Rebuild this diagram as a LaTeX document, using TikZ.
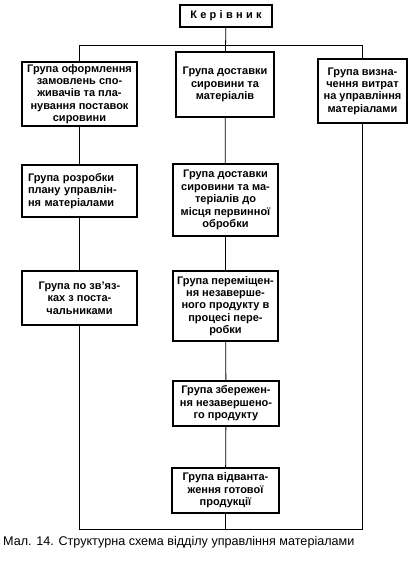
\documentclass[tikz,border=0pt]{standalone}
\usepackage{fontspec}
\setmainfont{Liberation Sans}
\newfontfamily\spacedfont[LetterSpace=30]{Liberation Sans}
\tikzset{
  grp/.style={draw,line width=1.3pt,align=center,inner sep=2pt,
    font=\fontsize{11}{12.4}\selectfont\bfseries},
  link/.style={line width=0.8pt}
}
\begin{document}
\begin{tikzpicture}[x=1pt,y=-1pt]
  \useasboundingbox (0,0) rectangle (409,561);
  % head
  \node[grp,minimum width=92pt,minimum height=22pt,font=\fontsize{11}{12}\spacedfont\bfseries] (head) at (226,16) {Керівник};
  % first row
  \node[grp,minimum width=115pt,minimum height=64pt] (orders) at (79.5,94) {Група оформлення\\замовлень спо-\\живачів та пла-\\нування поставок\\сировини};
  \node[grp,minimum width=98pt,minimum height=65pt] (deliv) at (225,84.5) {Група доставки\\сировини та\\матеріалів};
  \node[grp,minimum width=89pt,minimum height=64pt] (costs) at (362.5,91) {Група визна-\\чення витрат\\на управління\\матеріалами};
  % left column
  \node[grp,minimum width=115pt,minimum height=52pt,text width=103pt,inner sep=6pt,align=left] (plan) at (79.5,191) {Група розробки\\плану управлін-\\ня матеріалами};
  \node[grp,minimum width=115pt,minimum height=54pt] (suppl) at (79.5,298) {Група по зв'яз-\\ках з поста-\\чальниками};
  % middle column
  \node[grp,minimum width=105pt,minimum height=72pt] (prim) at (225.5,200) {Група доставки\\сировини та ма-\\теріалів до\\місця первинної\\обробки};
  \node[grp,minimum width=105pt,minimum height=70pt] (move) at (225.5,306) {Група переміщен-\\ня незаверше-\\ного продукту в\\процесі пере-\\робки};
  \node[grp,minimum width=106pt,minimum height=45pt] (store) at (226,403.5) {Група збережен-\\ня незавершено-\\го продукту};
  \node[grp,minimum width=107pt,minimum height=45pt] (ship) at (225.5,490.5) {Група відванта-\\ження готової\\продукції};
  \coordinate (bar) at (0,45);
  \coordinate (base) at (0,529);
  % links
  \draw[link] (head) -- (deliv);
  \draw[link] (orders |- bar) -- (costs |- bar);
  \draw[link] (orders) -- (orders |- bar);
  \draw[link] (costs) -- (costs |- bar);
  \draw[link] (orders) -- (plan);
  \draw[link] (plan) -- (suppl);
  \draw[link] (deliv) -- (prim);
  \draw[link] (prim) -- (move);
  \draw[link] (move) -- (store);
  \draw[link] (store) -- (ship);
  \draw[link] (suppl) -- (suppl |- base) -- (costs |- base) -- (costs);
  \draw[link] (ship) -- (ship |- base);
  % caption
  \node[anchor=west,inner sep=0pt,font=\fontsize{12.6}{14}\selectfont] (caption) at (3,542) {Мал. 14. Структурна схема відділу управління матеріалами};
\end{tikzpicture}
\end{document}
